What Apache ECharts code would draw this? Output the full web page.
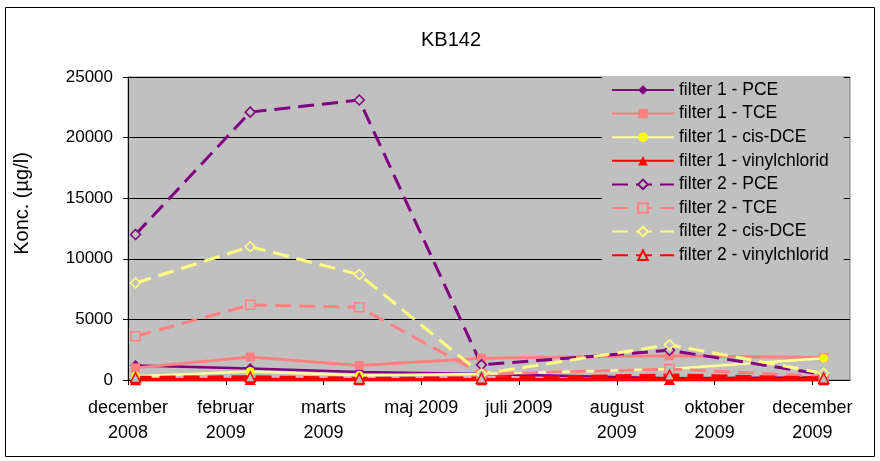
<!DOCTYPE html>
<html>
<head>
    <meta charset="utf-8">
    <title>KB142</title>
    <script src="https://cdn.jsdelivr.net/npm/echarts/dist/echarts.min.js"></script>
</head>
<body style="margin:0">
<div id="main" style="width:880px;height:461px;"></div>
<script type="text/javascript">
    // prøvetagningsdage (dage fra første akse-mærke)
    var days = [4, 65, 123, 188, 288, 370];
    var tickStep = 52;
    var tickLabels = ['december\n2008', 'februar\n2009', 'marts\n2009', 'maj 2009', 'juli 2009', 'august\n2009', 'oktober\n2009', 'december\n2009'];

    var f1PCE = [1200, 950, 650, 500, 150, 200];
    var f1TCE = [1000, 1900, 1200, 1800, 2000, 1850];
    var f1cisDCE = [300, 700, 400, 500, 900, 1800];
    var f1vinyl = [30, 40, 20, 30, 40, 30];
    var f2PCE = [12000, 22100, 23100, 1250, 2450, 450];
    var f2TCE = [3600, 6200, 6000, 500, 900, 300];
    var f2cisDCE = [8000, 11000, 8700, 500, 2900, 550];
    var f2vinyl = [200, 250, 120, 150, 400, 150];

    var bg = '#C0C0C0';

    function pairs(vals) {
        var out = [];
        for (var i = 0; i < days.length; i++) {
            out.push([days[i], vals[i]]);
        }
        return out;
    }

    var tickValues = [];
    for (var k = 0; k < tickLabels.length; k++) {
        tickValues.push(k * tickStep);
    }

    function solid(name, vals, color, symbol, size, width, symColor) {
        return {
            name: name, type: 'line', data: pairs(vals), color: color,
            symbol: symbol, symbolSize: size,
            lineStyle: {color: color, width: width},
            itemStyle: {color: symColor || color},
            animation: false
        };
    }

    function dashed(name, vals, color, symbol, size, width) {
        return {
            name: name, type: 'line', data: pairs(vals), color: color,
            symbol: symbol, symbolSize: size,
            lineStyle: {color: color, width: width, type: [16, 8]},
            itemStyle: {color: bg, borderColor: color, borderWidth: 1.5},
            animation: false
        };
    }

    var myChart = echarts.init(document.getElementById('main'));
    var option = {
        backgroundColor: '#fff',
        textStyle: {fontFamily: 'Liberation Sans, Arial, sans-serif'},
        title: {
            text: 'KB142',
            left: 416,
            top: 25,
            textStyle: {fontSize: 20, fontWeight: 'normal', color: '#000'}
        },
        graphic: [{
            type: 'rect',
            shape: {x: 5.5, y: 7.5, width: 869, height: 449},
            style: {fill: 'none', stroke: '#000', lineWidth: 1},
            silent: true
        }],
        legend: {
            orient: 'vertical',
            left: 602,
            top: 77,
            padding: [4, 15, 4, 9],
            itemWidth: 62,
            itemHeight: 12,
            itemGap: 5.6,
            backgroundColor: bg,
            textStyle: {fontSize: 17.5, color: '#000'},
            data: ['filter 1 - PCE', 'filter 1 - TCE', 'filter 1 - cis-DCE', 'filter 1 - vinylchlorid',
                'filter 2 - PCE', 'filter 2 - TCE', 'filter 2 - cis-DCE', 'filter 2 - vinylchlorid']
        },
        grid: {
            left: 128,
            right: 30,
            top: 77,
            bottom: 81,
            show: true,
            backgroundColor: bg,
            borderColor: '#808080',
            borderWidth: 1
        },
        xAxis: {
            type: 'value',
            min: 0,
            max: 384,
            interval: tickStep,
            splitLine: {show: false},
            axisLine: {onZero: false, lineStyle: {color: '#000', width: 1}},
            axisTick: {show: true, length: 5, inside: false, customValues: tickValues, lineStyle: {color: '#000'}},
            axisLabel: {
                customValues: tickValues,
                margin: 16,
                fontSize: 18,
                lineHeight: 25,
                color: '#000',
                formatter: function (v) {
                    var i = Math.round(v / tickStep);
                    return tickLabels[i] || '';
                }
            }
        },
        yAxis: {
            type: 'value',
            min: 0,
            max: 25000,
            interval: 5000,
            name: 'Konc. (µg/l)',
            nameLocation: 'middle',
            nameGap: 96,
            // navnet sidder lidt over midten af plotområdet
            nameTextStyle: {fontSize: 20, color: '#000', padding: [0, 0, 0, 50]},
            axisLine: {show: true, lineStyle: {color: '#000'}},
            axisTick: {show: true, length: 5, lineStyle: {color: '#000'}},
            axisLabel: {
                fontSize: 17, color: '#000', margin: 15,
                formatter: function (v) { return String(v); }
            },
            splitLine: {show: true, lineStyle: {color: '#000', width: 1}}
        },
        series: [
            solid('filter 1 - PCE', f1PCE, '#800080', 'diamond', 11, 2.5),
            solid('filter 1 - TCE', f1TCE, '#FF8080', 'rect', 9, 3),
            solid('filter 1 - cis-DCE', f1cisDCE, '#FFFF99', 'circle', 9, 2.5, '#FFFF00'),
            solid('filter 1 - vinylchlorid', f1vinyl, '#FF0000', 'triangle', 11, 3.5),
            dashed('filter 2 - PCE', f2PCE, '#800080', 'diamond', 10, 3),
            dashed('filter 2 - TCE', f2TCE, '#FF8080', 'rect', 9, 3),
            dashed('filter 2 - cis-DCE', f2cisDCE, '#FFFF80', 'diamond', 10, 3),
            dashed('filter 2 - vinylchlorid', f2vinyl, '#FF0000', 'triangle', 10, 3.5)
        ]
    };
    myChart.setOption(option);
</script>
</body>
</html>
